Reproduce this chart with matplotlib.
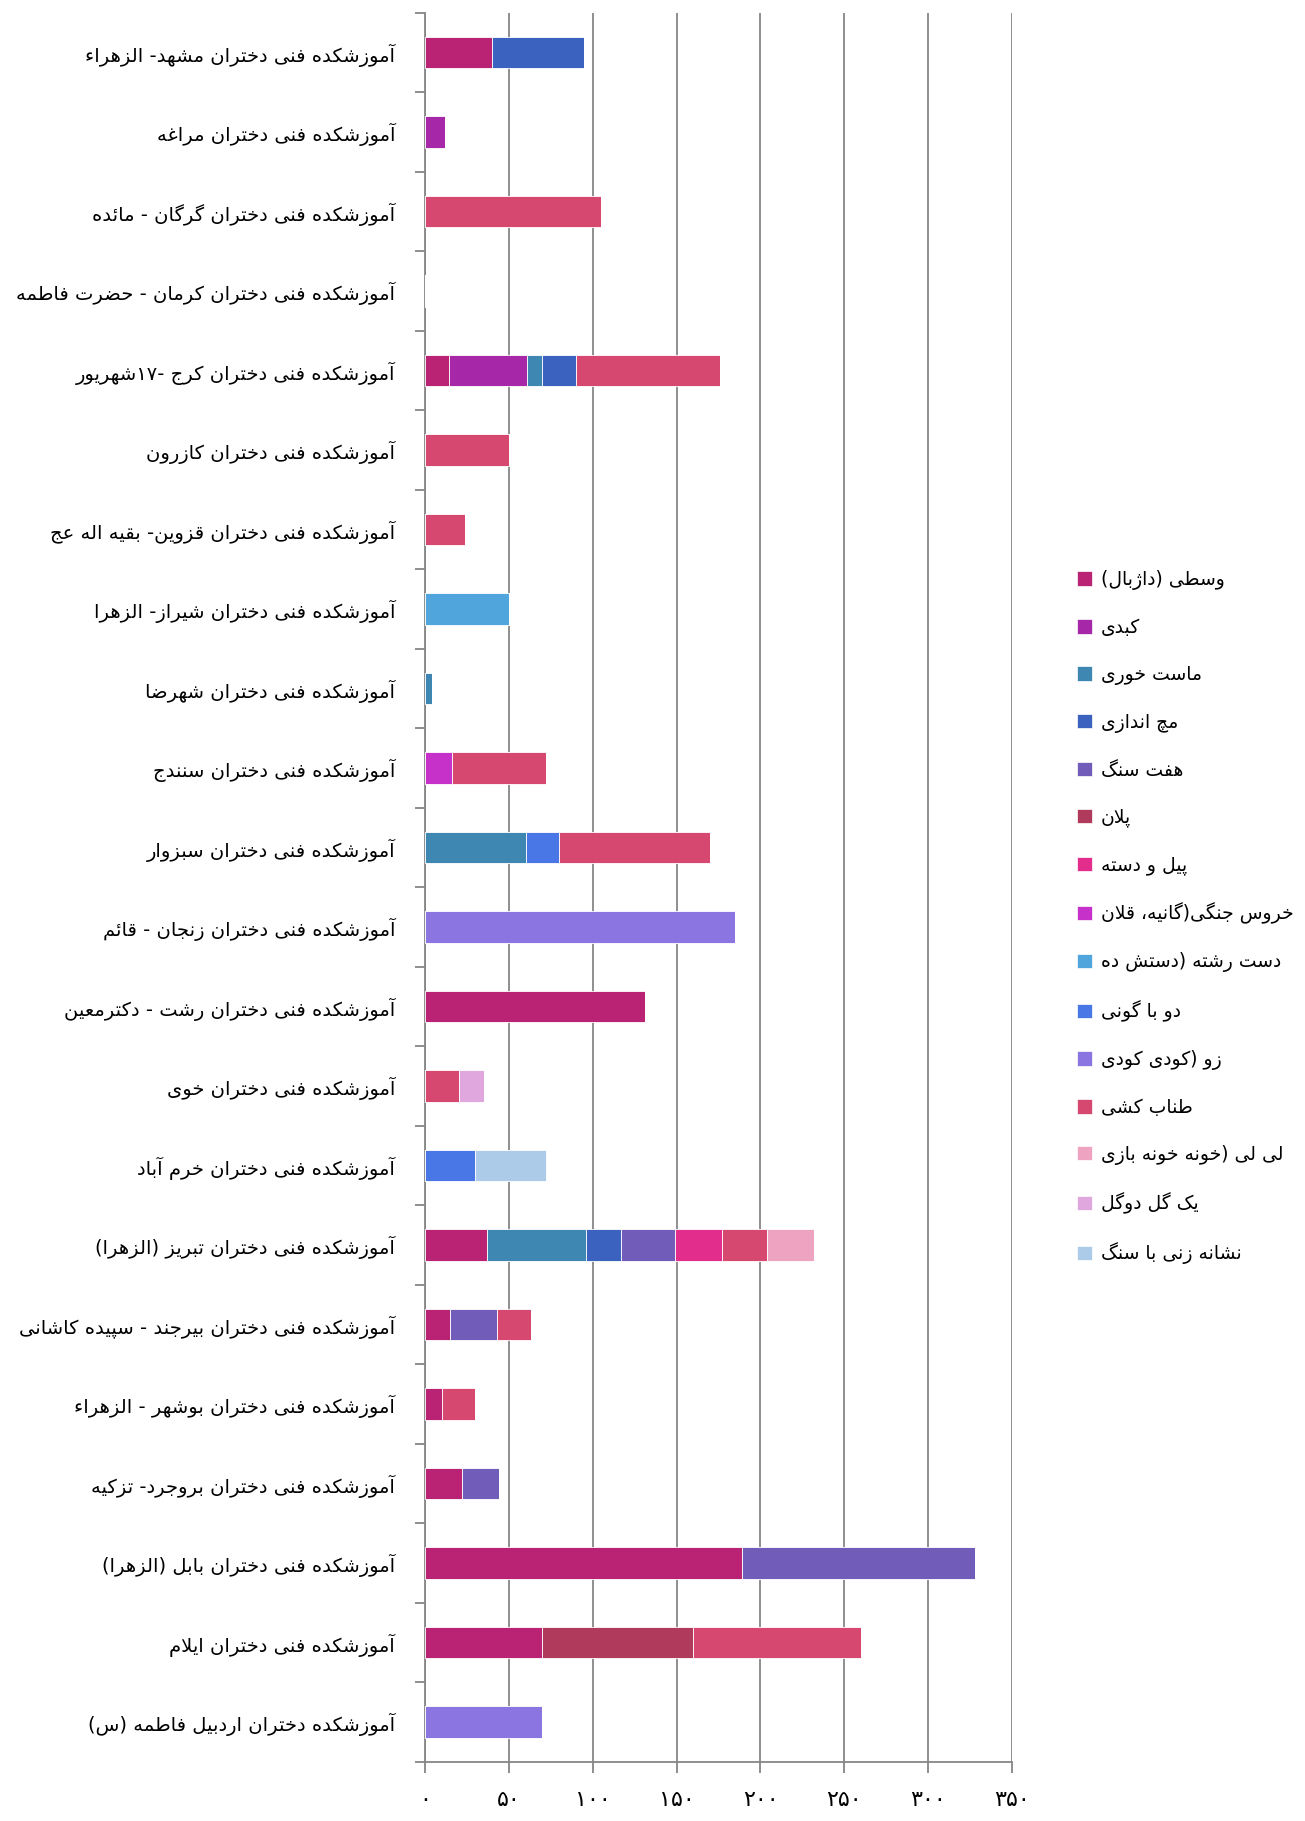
import re

import matplotlib
matplotlib.use("Agg")
import matplotlib.pyplot as plt
from matplotlib.patches import Patch
import numpy as np

plt.rcParams["font.family"] = ["DejaVu Sans"]

# ---- data (rows listed top to bottom, as in the chart) ----
SCHOOLS = [
    "آموزشکده فنی دختران مشهد- الزهراء",
    "آموزشکده فنی دختران مراغه",
    "آموزشکده فنی دختران گرگان - مائده",
    "آموزشکده فنی دختران کرمان - حضرت فاطمه",
    "آموزشکده فنی دختران کرج -۱۷شهریور",
    "آموزشکده فنی دختران کازرون",
    "آموزشکده فنی دختران قزوین- بقیه اله عج",
    "آموزشکده فنی دختران شیراز- الزهرا",
    "آموزشکده فنی دختران شهرضا",
    "آموزشکده فنی دختران سنندج",
    "آموزشکده فنی دختران سبزوار",
    "آموزشکده فنی دختران زنجان - قائم",
    "آموزشکده فنی دختران رشت - دکترمعین",
    "آموزشکده فنی دختران خوی",
    "آموزشکده فنی دختران خرم آباد",
    "آموزشکده فنی دختران تبریز (الزهرا)",
    "آموزشکده فنی دختران بیرجند - سپیده کاشانی",
    "آموزشکده فنی دختران بوشهر - الزهراء",
    "آموزشکده فنی دختران بروجرد- تزکیه",
    "آموزشکده فنی دختران بابل (الزهرا)",
    "آموزشکده فنی دختران ایلام",
    "آموزشکده دختران اردبیل فاطمه (س)",
]

GAMES = [
    "وسطی (داژبال)", "کبدی", "ماست خوری", "مچ اندازی", "هفت سنگ", "پلان",
    "پیل و دسته", "خروس جنگی(گانیه، قلان", "دست رشته (دستش ده", "دو با گونی",
    "زو (کودی کودی", "طناب کشی", "لی لی (خونه خونه بازی", "یک گل دوگل",
    "نشانه زنی با سنگ",
]

vasati   = [40, 0, 0, 0, 14, 0, 0, 0, 0, 0, 0, 0, 131, 0, 0, 37, 15, 10, 22, 189, 70, 0]
kabadi   = [0, 12, 0, 0, 47, 0, 0, 0, 0, 0, 0, 0, 0, 0, 0, 0, 0, 0, 0, 0, 0, 0]
mast     = [0, 0, 0, 0, 9, 0, 0, 0, 4, 0, 60, 0, 0, 0, 0, 59, 0, 0, 0, 0, 0, 0]
moch     = [55, 0, 0, 0, 20, 0, 0, 0, 0, 0, 0, 0, 0, 0, 0, 21, 0, 0, 0, 0, 0, 0]
haftsang = [0, 0, 0, 0, 0, 0, 0, 0, 0, 0, 0, 0, 0, 0, 0, 32, 28, 0, 22, 139, 0, 0]
palan    = [0, 0, 0, 0, 0, 0, 0, 0, 0, 0, 0, 0, 0, 0, 0, 0, 0, 0, 0, 0, 90, 0]
pil      = [0, 0, 0, 0, 0, 0, 0, 0, 0, 0, 0, 0, 0, 0, 0, 28, 0, 0, 0, 0, 0, 0]
khorus   = [0, 0, 0, 0, 0, 0, 0, 0, 0, 16, 0, 0, 0, 0, 0, 0, 0, 0, 0, 0, 0, 0]
dast     = [0, 0, 0, 0, 0, 0, 0, 50, 0, 0, 0, 0, 0, 0, 0, 0, 0, 0, 0, 0, 0, 0]
dobagoni = [0, 0, 0, 0, 0, 0, 0, 0, 0, 0, 20, 0, 0, 0, 30, 0, 0, 0, 0, 0, 0, 0]
zu       = [0, 0, 0, 0, 0, 0, 0, 0, 0, 0, 0, 185, 0, 0, 0, 0, 0, 0, 0, 0, 0, 70]
tanab    = [0, 0, 105, 0, 86, 50, 24, 0, 0, 56, 90, 0, 0, 20, 0, 27, 20, 20, 0, 0, 100, 0]
lili     = [0, 0, 0, 0, 0, 0, 0, 0, 0, 0, 0, 0, 0, 0, 0, 28, 0, 0, 0, 0, 0, 0]
yekgol   = [0, 0, 0, 0, 0, 0, 0, 0, 0, 0, 0, 0, 0, 15, 0, 0, 0, 0, 0, 0, 0, 0]
neshane  = [0, 0, 0, 0, 0, 0, 0, 0, 0, 0, 0, 0, 0, 0, 42, 0, 0, 0, 0, 0, 0, 0]

SERIES = [vasati, kabadi, mast, moch, haftsang, palan, pil, khorus, dast,
          dobagoni, zu, tanab, lili, yekgol, neshane]

COLORS = ["#BA2374", "#A627A8", "#3F87B3", "#3A62BE", "#715DB9", "#B03A5B",
          "#E22D8D", "#C531C9", "#50A6DC", "#4A77E6", "#8B75E0", "#D64870",
          "#EEA3C1", "#E0A6DE", "#ABCBE9"]

XTICKS = [0, 50, 100, 150, 200, 250, 300, 350]

# ---- minimal Persian shaping (matplotlib has no complex text layout) ----
FORMS = {  # isolated, final, initial, medial  (2-tuple = joins only to the right)
    "ء": (0xFE80,), "آ": (0xFE81, 0xFE82), "أ": (0xFE83, 0xFE84),
    "ؤ": (0xFE85, 0xFE86), "إ": (0xFE87, 0xFE88),
    "ئ": (0xFE89, 0xFE8A, 0xFE8B, 0xFE8C), "ا": (0xFE8D, 0xFE8E),
    "ب": (0xFE8F, 0xFE90, 0xFE91, 0xFE92), "ة": (0xFE93, 0xFE94),
    "ت": (0xFE95, 0xFE96, 0xFE97, 0xFE98), "ث": (0xFE99, 0xFE9A, 0xFE9B, 0xFE9C),
    "ج": (0xFE9D, 0xFE9E, 0xFE9F, 0xFEA0), "ح": (0xFEA1, 0xFEA2, 0xFEA3, 0xFEA4),
    "خ": (0xFEA5, 0xFEA6, 0xFEA7, 0xFEA8), "د": (0xFEA9, 0xFEAA),
    "ذ": (0xFEAB, 0xFEAC), "ر": (0xFEAD, 0xFEAE), "ز": (0xFEAF, 0xFEB0),
    "س": (0xFEB1, 0xFEB2, 0xFEB3, 0xFEB4), "ش": (0xFEB5, 0xFEB6, 0xFEB7, 0xFEB8),
    "ص": (0xFEB9, 0xFEBA, 0xFEBB, 0xFEBC), "ض": (0xFEBD, 0xFEBE, 0xFEBF, 0xFEC0),
    "ط": (0xFEC1, 0xFEC2, 0xFEC3, 0xFEC4), "ظ": (0xFEC5, 0xFEC6, 0xFEC7, 0xFEC8),
    "ع": (0xFEC9, 0xFECA, 0xFECB, 0xFECC), "غ": (0xFECD, 0xFECE, 0xFECF, 0xFED0),
    "ف": (0xFED1, 0xFED2, 0xFED3, 0xFED4), "ق": (0xFED5, 0xFED6, 0xFED7, 0xFED8),
    "ك": (0xFED9, 0xFEDA, 0xFEDB, 0xFEDC), "ل": (0xFEDD, 0xFEDE, 0xFEDF, 0xFEE0),
    "م": (0xFEE1, 0xFEE2, 0xFEE3, 0xFEE4), "ن": (0xFEE5, 0xFEE6, 0xFEE7, 0xFEE8),
    "ه": (0xFEE9, 0xFEEA, 0xFEEB, 0xFEEC), "و": (0xFEED, 0xFEEE),
    "ى": (0xFEEF, 0xFEF0), "ي": (0xFEF1, 0xFEF2, 0xFEF3, 0xFEF4),
    "پ": (0xFB56, 0xFB57, 0xFB58, 0xFB59), "چ": (0xFB7A, 0xFB7B, 0xFB7C, 0xFB7D),
    "ژ": (0xFB8A, 0xFB8B), "ک": (0xFB8E, 0xFB8F, 0xFB90, 0xFB91),
    "گ": (0xFB92, 0xFB93, 0xFB94, 0xFB95), "ی": (0xFBFC, 0xFBFD, 0xFBFE, 0xFBFF),
}
LAM_ALEF = {"ا": (0xFEFB, 0xFEFC), "آ": (0xFEF5, 0xFEF6),
            "أ": (0xFEF7, 0xFEF8), "إ": (0xFEF9, 0xFEFA)}


def shape(s):
    out, i, prev = [], 0, False
    while i < len(s):
        c = s[i]
        if c not in FORMS:
            out.append(c)
            prev = False
            i += 1
            continue
        nxt = s[i + 1] if i + 1 < len(s) else ""
        if c == "ل" and nxt in LAM_ALEF:
            iso, fin = LAM_ALEF[nxt]
            out.append(chr(fin if prev else iso))
            prev = False
            i += 2
            continue
        f = FORMS[c]
        link = len(f) == 4 and nxt in FORMS and len(FORMS[nxt]) > 1
        if len(f) == 1:
            out.append(chr(f[0]))
        elif prev and link:
            out.append(chr(f[3]))
        elif prev:
            out.append(chr(f[1]))
        elif link:
            out.append(chr(f[2]))
        else:
            out.append(chr(f[0]))
        prev = len(f) == 4
        i += 1
    return "".join(out)


def rtl(s):
    parts = re.findall(r"[0-9\u06F0-\u06F9]+|.", shape(s))[::-1]
    mirror = {"(": ")", ")": "("}
    return "".join(mirror.get(p, p) for p in parts)


def fa_digits(n):
    return str(n).translate(str.maketrans("0123456789", "۰۱۲۳۴۵۶۷۸۹"))


# ---- figure ----
fig = plt.figure(figsize=(13.05, 18.21), dpi=100)
ax = fig.add_axes([0.3257, 0.0325, 0.4498, 0.9605])

GRID = "#868686"
n = len(SCHOOLS)
y = np.arange(n)
left = np.zeros(n)
for vals, col in zip(SERIES, COLORS):
    v = np.array(vals, dtype=float)
    ax.barh(y, v, left=left, height=0.4, color=col,
            edgecolor="white", linewidth=0.6, zorder=3)
    left += v

ax.set_ylim(n - 0.5, -0.5)
ax.set_xlim(0, 350)

ax.set_yticks(y)
ax.set_yticklabels([rtl(s) for s in SCHOOLS], fontsize=14)
ax.set_yticks(np.arange(n + 1) - 0.5, minor=True)
ax.tick_params(axis="y", which="major", length=0, pad=21.5)
ax.tick_params(axis="y", which="minor", length=7, width=1.3, color=GRID)

ax.set_xticks(XTICKS)
ax.set_xticklabels([fa_digits(t) for t in XTICKS], fontsize=16)
ax.tick_params(axis="x", length=8, width=1.3, color=GRID, pad=12)
ax.grid(axis="x", color=GRID, linewidth=1.3, zorder=0)

for side in ("top", "right"):
    ax.spines[side].set_visible(False)
for side in ("left", "bottom"):
    ax.spines[side].set_color(GRID)
    ax.spines[side].set_linewidth(1.3)

handles = [Patch(facecolor=c, edgecolor="white", linewidth=0.5) for c in COLORS]
fig.legend(handles, [rtl(g) for g in GAMES], loc="upper left",
           bbox_to_anchor=(0.825, 0.687), frameon=False, fontsize=13.5,
           handlelength=0.8, handleheight=0.8, handletextpad=0.5,
           labelspacing=1.49, borderpad=0, borderaxespad=0)

fig.savefig("out.png", dpi=100, facecolor="white")
